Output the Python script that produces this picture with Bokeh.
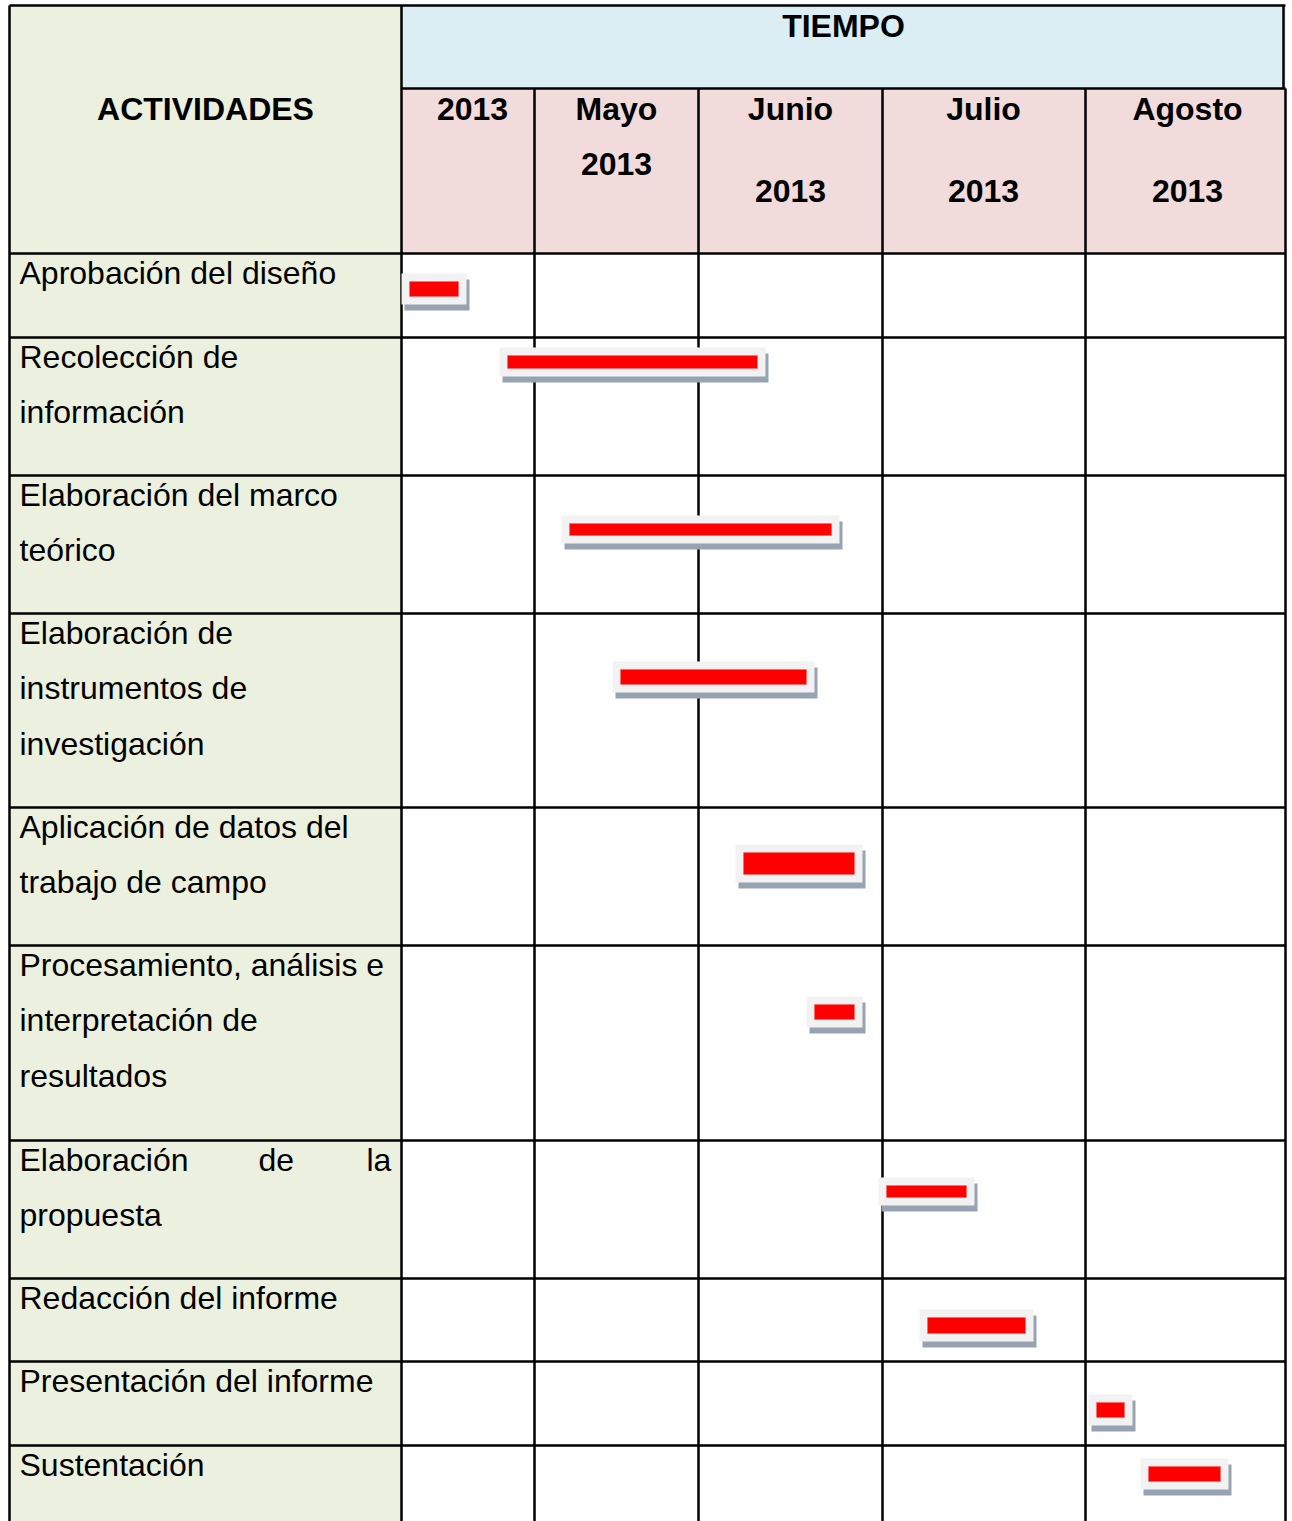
from bokeh.plotting import figure
from bokeh.models import Range1d, ColumnDataSource
from bokeh.transform import dodge
from bokeh.embed import file_html
from bokeh.resources import INLINE
from bokeh.core.properties import value

# ---------------- data ----------------
activities = [
    ["Aprobación del diseño"],
    ["Recolección de", "información"],
    ["Elaboración del marco", "teórico"],
    ["Elaboración de", "instrumentos de", "investigación"],
    ["Aplicación de datos del", "trabajo de campo"],
    ["Procesamiento, análisis e", "interpretación de", "resultados"],
    ["Elaboración de la", "propuesta"],
    ["Redacción del informe"],
    ["Presentación del informe"],
    ["Sustentación"],
]
# row boundaries on the vertical (pixel-like) scale
row_edges = [253, 337, 475, 613, 807, 945, 1140, 1278, 1361, 1445, 1521]
# month column boundaries on the timeline scale
month_edges = [401, 534, 698, 882, 1085, 1285]
month_labels = [["2013"], ["Mayo", "2013"], ["Junio", "", "2013"],
                ["Julio", "", "2013"], ["Agosto", "", "2013"]]
month_label_x = [472, 616, 790, 983, 1187]

# bar start / end on timeline scale, vertical centre and thickness
bar_start = [409, 507, 569, 620, 743, 814, 886, 927, 1096, 1148]
bar_end = [458, 757, 831, 806, 854, 854, 966, 1025, 1124, 1220]
bar_y = [288.5, 361.5, 529, 676.5, 863, 1011.5, 1191, 1325, 1409.5, 1473.5]
bar_h = [15, 13, 12, 15, 22, 15, 12, 16, 15, 15]

# ---------------- figure ----------------
TOP, LEFT, RIGHT, BOTTOM = 5, 9, 1285, 1530
COL_A = 401
HDR1, HDR2 = 88, 253
FONT = "Liberation Sans"
W, H = 1292, 1521

p = figure(width=W, height=H, x_range=Range1d(0, W), y_range=Range1d(H, 0),
           output_backend="svg", toolbar_location=None, min_border=0,
           x_axis_location=None, y_axis_location=None)
p.grid.visible = False
p.outline_line_color = None
p.background_fill_color = "white"
p.border_fill_color = "white"

# backgrounds
p.quad(left=[LEFT], right=[COL_A], top=[TOP], bottom=[BOTTOM], fill_color="#ebf1de", line_color=None)
p.quad(left=[COL_A], right=[RIGHT], top=[TOP], bottom=[HDR1], fill_color="#daeef3", line_color=None)
p.quad(left=[COL_A], right=[RIGHT], top=[HDR1], bottom=[HDR2], fill_color="#f2dcdb", line_color=None)

# grid lines
LW = 2.5
xs, ys = [], []
xs += [[LEFT, RIGHT], [LEFT, LEFT], [RIGHT, RIGHT], [COL_A, COL_A], [COL_A, RIGHT], [LEFT, RIGHT]]
ys += [[TOP, TOP], [TOP, BOTTOM], [HDR1, BOTTOM], [TOP, BOTTOM], [HDR1, HDR1], [HDR2, HDR2]]
xs.append([1283, 1283]); ys.append([TOP, HDR1])
for xe in month_edges[1:-1]:
    xs.append([xe, xe]); ys.append([HDR1, BOTTOM])
for ye in row_edges[1:-1]:
    xs.append([LEFT, RIGHT]); ys.append([ye, ye])
p.multi_line(xs=xs, ys=ys, line_color="black", line_width=LW)

# bars: shadow, light box, red bar (drawn over the grid lines)
pad = 8
src = ColumnDataSource(dict(
    s=bar_start, e=bar_end,
    t=[y - h / 2 for y, h in zip(bar_y, bar_h)],
    b=[y + h / 2 for y, h in zip(bar_y, bar_h)],
))
p.quad(left=dodge("s", -pad + 3), right=dodge("e", pad + 3),
       top=dodge("t", -pad + 6, range=p.y_range), bottom=dodge("b", pad + 6, range=p.y_range),
       source=src, fill_color="#97a3b2", line_color=None)
p.quad(left=dodge("s", -pad), right=dodge("e", pad),
       top=dodge("t", -pad, range=p.y_range), bottom=dodge("b", pad, range=p.y_range),
       source=src, fill_color="#f2f2f2", line_color=None)
p.quad(left="s", right="e", top="t", bottom="b", source=src,
       fill_color="#ff0000", line_color="#ff6666", line_width=0.5)

# header texts
p.text(x=[843], y=[25], text=["TIEMPO"], text_font=value(FONT), text_font_style="bold",
       text_font_size="32px", text_align="center", text_baseline="middle", text_color="black")
p.text(x=[205], y=[108], text=["ACTIVIDADES"], text_font=value(FONT), text_font_style="bold",
       text_font_size="32px", text_align="center", text_baseline="middle", text_color="black")

mx, my, mt = [], [], []
line_y_2 = [108, 163]
line_y_3 = [108, 149, 190]
for x, lines in zip(month_label_x, month_labels):
    ly = line_y_2 if len(lines) == 2 else line_y_3
    for i, t in enumerate(lines):
        if t:
            mx.append(x); my.append(ly[i]); mt.append(t)
p.text(x=mx, y=my, text=mt, text_font=value(FONT), text_font_style="bold",
       text_font_size="32px", text_align="center", text_baseline="middle", text_color="black")

# activity texts
LINE_GAP = 55.5
ax, ay, at = [], [], []
for r, lines in enumerate(activities):
    y0 = row_edges[r] + 19
    for i, t in enumerate(lines):
        y = y0 + i * LINE_GAP
        if t == "Elaboración de la":
            for w, x in zip(t.split(" "), [19, 258, 366]):
                ax.append(x); ay.append(y); at.append(w)
        else:
            ax.append(19); ay.append(y); at.append(t)
p.text(x=ax, y=ay, text=at, text_font=value(FONT), text_font_size="32px",
       text_align="left", text_baseline="middle", text_color="black")

open("out.html", "w").write(file_html(p, INLINE))
